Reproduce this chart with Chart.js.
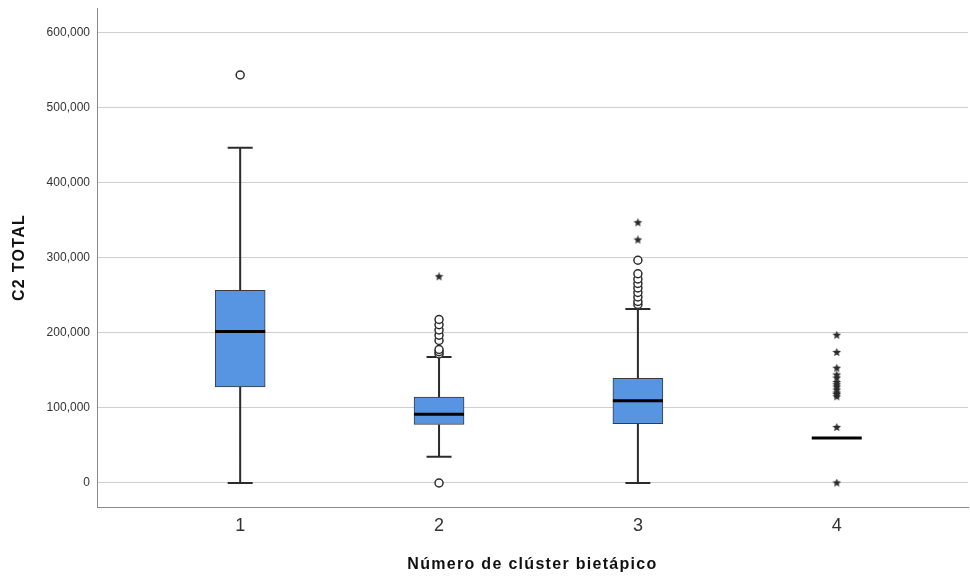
<!DOCTYPE html>
<html>
<head>
<meta charset="utf-8">
<script src="https://cdn.jsdelivr.net/npm/chart.js@4.4.1/dist/chart.umd.min.js"></script>
<style>
  html, body { margin: 0; padding: 0; background: #ffffff; }
  #wrap { width: 970px; height: 577px; position: relative; }
</style>
</head>
<body>
<div id="wrap"><canvas id="chart"></canvas></div>
<script>
// Box-plot summary of C2 TOTAL for each two-step cluster
const clusters = ['1', '2', '3', '4'];
const whiskerLow  = [0,      35000,  0,      60000];
const q1          = [128000, 78000,  79000,  60000];
const median      = [202000, 91500,  109500, 60000];
const q3          = [257000, 114500, 139500, 60000];
const whiskerHigh = [447000, 168000, 232000, 60000];

// outliers (circles) and extreme values (stars), per cluster
const outliers = [
  [544000],
  [0, 172000, 175000, 178000, 190000, 197000, 204000, 211000, 218000],
  [238000, 242000, 248000, 254000, 260000, 266000, 272000, 279000, 297000],
  []
];
const extremes = [
  [],
  [275000],
  [324000, 347000],
  [0, 74000, 115000, 118000, 120000, 124000, 128000, 131000, 134000, 140000, 144000, 153000, 174000, 197000]
];

const yTicks = [0, 100000, 200000, 300000, 400000, 500000, 600000];

// small filled five-point star used for extreme values
function makeStar(size, color) {
  const c = document.createElement('canvas');
  c.width = size; c.height = size;
  const g = c.getContext('2d');
  const cx = size / 2, cy = size / 2, ro = size / 2, ri = ro * 0.45;
  g.beginPath();
  for (let k = 0; k < 10; k++) {
    const r = k % 2 === 0 ? ro : ri;
    const a = -Math.PI / 2 + k * Math.PI / 5;
    const px = cx + r * Math.cos(a), py = cy + r * Math.sin(a);
    if (k === 0) g.moveTo(px, py); else g.lineTo(px, py);
  }
  g.closePath();
  g.fillStyle = color;
  g.fill();
  return c;
}
const starImg = makeStar(9, '#2b2b2b');

const xPos = clusters.map((c, i) => i + 1);

const whiskerPts = [];
clusters.forEach((c, i) => {
  whiskerPts.push({x: xPos[i], y: q3[i]}, {x: xPos[i], y: whiskerHigh[i]}, {x: xPos[i], y: null});
  whiskerPts.push({x: xPos[i], y: q1[i]}, {x: xPos[i], y: whiskerLow[i]}, {x: xPos[i], y: null});
});
const capPts = [];
clusters.forEach((c, i) => {
  capPts.push({x: xPos[i], y: whiskerLow[i]}, {x: xPos[i], y: whiskerHigh[i]});
});

const fontFamily = '"Liberation Sans", Arial, sans-serif';

// axis titles are set with wider letter spacing; tick labels are drawn
// after the datasets (ticks.z = 1) with normal spacing
const titleSpacing = {
  id: 'titleSpacing',
  beforeDraw(chart) { chart.ctx.letterSpacing = '1.3px'; },
  afterDatasetsDraw(chart) { chart.ctx.letterSpacing = '0px'; },
  afterDraw(chart) { chart.ctx.letterSpacing = '0px'; }
};

new Chart(document.getElementById('chart'), {
  type: 'bar',
  plugins: [titleSpacing],
  data: {
    datasets: [
      {
        type: 'line',
        data: whiskerPts,
        borderColor: '#2b2b2b',
        borderWidth: 2,
        pointRadius: 0,
        spanGaps: false,
        order: 6
      },
      {
        type: 'scatter',
        data: capPts,
        pointStyle: 'line',
        pointRadius: 12.5,
        borderColor: '#2b2b2b',
        pointBorderWidth: 2,
        order: 5
      },
      {
        type: 'bar',
        data: clusters.map((c, i) => ({x: xPos[i], y: [q1[i], q3[i]]})),
        backgroundColor: '#5795e2',
        borderColor: '#3a3a3a',
        borderWidth: 1,
        borderSkipped: false,
        barThickness: 50,
        order: 4
      },
      {
        type: 'scatter',
        data: clusters.map((c, i) => ({x: xPos[i], y: median[i]})),
        pointStyle: 'line',
        pointRadius: 25,
        borderColor: '#000000',
        pointBorderWidth: 3,
        order: 3
      },
      {
        type: 'scatter',
        data: outliers.flatMap((arr, i) => arr.map(v => ({x: xPos[i], y: v}))),
        pointStyle: 'circle',
        pointRadius: 4,
        backgroundColor: '#ffffff',
        borderColor: '#2b2b2b',
        pointBorderWidth: 1.5,
        order: 2
      },
      {
        type: 'scatter',
        data: extremes.flatMap((arr, i) => arr.map(v => ({x: xPos[i], y: v}))),
        pointStyle: starImg,
        order: 1
      }
    ]
  },
  options: {
    responsive: true,
    maintainAspectRatio: false,
    animation: false,
    events: [],
    layout: { autoPadding: false, padding: { top: 8, right: 2, left: 0, bottom: 0 } },
    plugins: { legend: { display: false }, tooltip: { enabled: false } },
    scales: {
      x: {
        type: 'linear',
        offset: false,
        min: 0.28,
        max: 4.66,
        afterBuildTicks: (s) => { s.ticks = xPos.map(v => ({value: v})); },
        afterFit: (s) => { s.height = 70; s.paddingLeft = 0; s.paddingRight = 0; },
        grid: { display: false, drawTicks: false },
        border: { display: true, color: '#8a8a8a', width: 1 },
        ticks: {
          z: 1,
          padding: 8,
          color: '#333333',
          font: { family: fontFamily, size: 18 },
          callback: (v) => clusters[v - 1]
        },
        title: {
          display: true,
          text: 'Número de clúster bietápico',
          color: '#111111',
          font: { family: fontFamily, size: 16, weight: 'bold' },
          padding: { top: 0, bottom: 3 }
        }
      },
      y: {
        min: -32000,
        max: 633333,
        afterBuildTicks: (s) => { s.ticks = yTicks.map(v => ({value: v})); },
        afterFit: (s) => { s.width = 97; s.paddingTop = 0; s.paddingBottom = 0; },
        grid: { color: '#cfcfcf', lineWidth: 1, drawTicks: false },
        border: { display: true, color: '#8a8a8a', width: 1 },
        ticks: {
          z: 1,
          padding: 7,
          color: '#333333',
          font: { family: fontFamily, size: 12 },
          callback: (v) => v.toLocaleString('en-US')
        },
        title: {
          display: true,
          text: 'C2 TOTAL',
          color: '#111111',
          font: { family: fontFamily, size: 16, weight: 'bold' },
          padding: { top: 9.5, bottom: 4 }
        }
      }
    }
  }
});
</script>
</body>
</html>
